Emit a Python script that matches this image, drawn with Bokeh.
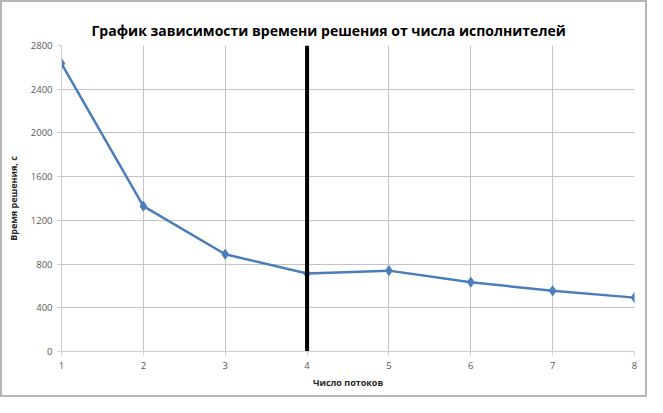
from bokeh.plotting import figure
from bokeh.models import Range1d, FixedTicker
from bokeh.embed import file_html
from bokeh.resources import INLINE

# Data
threads = [1, 2, 3, 4, 5, 6, 7, 8]
solve_time = [2635, 1330, 890, 713, 740, 634, 555, 493]
marker_x = [4, 4]
marker_y = [0, 2800]
x_ticks = [1, 2, 3, 4, 5, 6, 7, 8]
y_ticks = [0, 400, 800, 1200, 1600, 2000, 2400, 2800]

title_text = "График зависимости времени решения от числа исполнителей"
x_title = "Число потоков"
y_title = "Время решения, с"

p = figure(width=647, height=397, output_backend="svg", toolbar_location=None,
           x_range=Range1d(1, 8), y_range=Range1d(0, 2800),
           min_border_left=59, min_border_right=15, min_border_top=43, min_border_bottom=48)

p.styles = {"border": "2px solid #b5b5b5", "box-sizing": "border-box"}

p.title.text = title_text
p.title.text_font = "Open Sans"
p.title.text_font_size = "14px"
p.title.text_font_style = "bold"
p.title.text_color = "#000000"
p.title.align = "left"
p.title.offset = 30
p.title.standoff = 12

p.outline_line_color = None

p.line(threads, solve_time, line_color="#4a7ebb", line_width=2.5)
p.scatter(threads, solve_time, marker="diamond", size=10, fill_color="#4a7ebb", line_color="#4a7ebb")
p.line(marker_x, marker_y, line_color="#000000", line_width=4)

for ax in (p.xaxis[0], p.yaxis[0]):
    ax.axis_line_color = "#d0d0d0"
    ax.major_tick_line_color = "#d0d0d0"
    ax.major_tick_out = 4
    ax.major_tick_in = 0
    ax.minor_tick_line_color = None
    ax.major_label_text_font = "Open Sans"
    ax.major_label_text_font_size = "9.5px"
    ax.major_label_text_color = "#595959"
    ax.axis_label_text_font = "Open Sans"
    ax.axis_label_text_font_size = "9px"
    ax.axis_label_text_font_style = "bold"
    ax.axis_label_text_color = "#262626"

p.xaxis.ticker = FixedTicker(ticks=x_ticks)
p.yaxis.ticker = FixedTicker(ticks=y_ticks)
p.xaxis.axis_label = x_title
p.yaxis.axis_label = y_title
p.xaxis.major_label_standoff = 6
p.yaxis.major_label_standoff = 5
p.xaxis.axis_label_standoff = 4
p.yaxis.axis_label_standoff = 8

p.xgrid.ticker = FixedTicker(ticks=x_ticks)
p.ygrid.ticker = FixedTicker(ticks=y_ticks)
p.xgrid.grid_line_color = "#c4c4c4"
p.ygrid.grid_line_color = "#c4c4c4"

open("out.html", "w").write(file_html(p, INLINE))
